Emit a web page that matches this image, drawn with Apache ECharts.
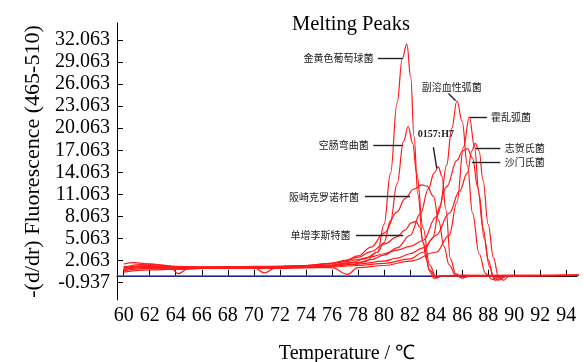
<!DOCTYPE html>
<html><head><meta charset="utf-8">
<script src="https://cdn.jsdelivr.net/npm/echarts@6/dist/echarts.min.js"></script>
<style>html,body{margin:0;padding:0;background:#fff}#c{width:584px;height:362px}</style>
</head><body><div id="c"></div>
<script>
// Tick labels
const yTicks = [-0.937, 2.063, 5.063, 8.063, 11.063, 14.063, 17.063, 20.063, 23.063, 26.063, 29.063, 32.063];
const xTicks = [60, 62, 64, 66, 68, 70, 72, 74, 76, 78, 80, 82, 84, 86, 88, 90, 92, 94];

// Melting curves: [temperature, -(d/dT) fluorescence]
const staph = [[60,0.8],[61,1.2],[62,1.3],[64,1.1],[66,1.0],[68,1.0],[70,1.1],[72,1.1],[74,1.2],[76,1.3],[77.5,1.5],[78.5,1.9],[79.5,3.2],[80,7],[80.5,14],[81,23.5],[81.4,29.5],[81.75,31.5],[82.05,27],[82.3,19],[82.6,11],[83,4.5],[83.5,0.8],[84,-0.3],[84.5,0],[86,0.1],[90,0.05],[95,0.05]];
const campy = [[60,1.0],[61,1.5],[62,1.6],[63.5,1.3],[64.2,0.3],[65,1.0],[66,1.1],[68,1.2],[70,1.2],[72,1.2],[74,1.3],[76,1.5],[77.5,1.8],[78.5,2.3],[79.5,3.2],[80,4.5],[80.5,7.5],[81,12.5],[81.5,18.3],[81.85,20.3],[82.2,18],[82.5,14],[83,6.5],[83.5,1.5],[84,-0.2],[84.5,0],[90,0.05],[95,0.05]];
const vpara = [[60,1.3],[62,1.2],[64,1.0],[66,1.0],[68,1.1],[70,1.1],[70.8,0.4],[71.6,1.0],[72,1.1],[74,1.1],[76,1.2],[78,1.4],[80,1.7],[82,2.3],[83,3.2],[83.7,5],[84.3,9.5],[84.8,15],[85.2,20],[85.6,23.8],[86,21],[86.4,15],[86.8,8.5],[87.3,3],[87.8,0.3],[88.3,-0.5],[88.8,-0.2],[89.5,0],[95,0.05]];
const vchol = [[60,0.5],[62,0.8],[64,0.9],[66,1.0],[68,1.0],[70,1.0],[72,1.0],[74,1.1],[76,1.1],[77.2,0.2],[78,1.1],[80,1.4],[82,2],[84,3.2],[85,5.5],[85.6,10],[86.1,17.5],[86.55,21.6],[86.95,17.5],[87.3,11],[87.7,5],[88.1,1.2],[88.5,-0.6],[89,-0.3],[89.5,0],[95,0.05]];
const shig = [[60,1.6],[60.8,1.8],[62,1.6],[64,1.3],[66,1.2],[68,1.2],[70,1.2],[72,1.2],[74,1.3],[76,1.4],[78,1.6],[80,2.0],[81,2.4],[82,3],[83,3.8],[84,5.5],[85,8.5],[85.8,11.5],[86.4,14],[86.75,17],[87.0,18],[87.3,17],[87.6,13],[88,7],[88.4,2.5],[88.8,-0.2],[89.2,-0.6],[89.6,0],[95,0.05]];
const salm = [[60,1.2],[62,1.4],[64,1.2],[66,1.2],[68,1.2],[70,1.3],[72,1.3],[74,1.4],[76,1.7],[77,1.9],[78,2.2],[79,2.6],[80,3.0],[81,3.5],[82,4.0],[83,4.8],[84,8],[84.8,12.1],[85.6,15.7],[86.05,17],[86.4,17.3],[86.8,16],[87.2,12],[87.6,6.5],[88,2.2],[88.4,-0.2],[88.8,-0.6],[89.3,0],[95,0.05]];
const ecoli = [[60,0.9],[62,1.1],[64,1.0],[66,1.0],[68,1.0],[70,1.1],[72,1.1],[74,1.2],[76,1.4],[78,1.8],[79,2.2],[80,2.8],[81,3.8],[82,5.5],[82.8,8.5],[83.4,11.8],[83.85,14],[84.17,14.8],[84.45,13.5],[84.75,9],[85.1,2.3],[85.5,0.3],[86,-0.3],[86.5,-0.1],[87,0],[95,0.05]];
const crono = [[60,0.7],[62,1.0],[64,0.9],[66,1.0],[68,1.1],[70,1.1],[72,1.2],[74,1.3],[75,1.5],[76,1.7],[77,2.1],[78,2.7],[79,3.9],[80,5.8],[81,8.7],[81.6,10.5],[82.3,11.8],[82.9,12.35],[83.3,12.2],[83.8,10.8],[84.2,7.5],[84.6,4],[85,1.5],[85.5,0.1],[86,-0.3],[86.5,0],[95,0.05]];
const listeria = [[60,1.1],[62,1.3],[64,1.2],[66,1.1],[68,1.2],[70,1.2],[72,1.3],[74,1.4],[76,1.7],[77,2.0],[78,2.5],[79,3.3],[80,4.3],[81,5.3],[81.6,6.2],[82.1,7.2],[82.45,7.4],[82.75,6.6],[83,4.5],[83.25,2.2],[83.5,0.6],[83.85,-0.35],[84.3,0],[95,0.05]];
const blank = [[59.5,0],[90.5,0]];

const curveNames = ['金黄色葡萄球菌','空肠弯曲菌','副溶血性弧菌','霍乱弧菌','志贺氏菌','沙门氏菌','0157:H7','阪崎克罗诺杆菌','单增李斯特菌'];
const curves = [staph, campy, vpara, vchol, shig, salm, ecoli, crono, listeria];

// Annotation labels (data coordinates)
const annNames = ['金黄色葡萄球菌','空肠弯曲菌','阪崎克罗诺杆菌','单增李斯特菌','霍乱弧菌','志贺氏菌','沙门氏菌','副溶血性弧菌','0157:H7'];
const annText = [[79.45,29.57],[79.1,17.78],[78.35,10.75],[77.7,5.55],[87.95,21.55],[89.0,17.33],[89.0,15.5],[85.2,25.6],[83.98,19.2]];
const annSide = ['left','left','left','left','right','right','right','inside','inside'];
const annFrom = [[79.53,29.57],[79.17,17.78],[78.53,10.75],[77.84,5.55],[86.6,21.55],[87.0,17.33],[86.75,15.5],[84.95,24.8],[83.79,17.5]];
const annTo = [[81.45,29.57],[81.43,17.78],[82.0,10.75],[81.48,5.55],[87.9,21.55],[88.93,17.33],[88.93,15.5],[85.5,23.8],[84.05,14.6]];

const serif = '"Liberation Serif","Times New Roman",serif';
const cjk = '"Noto Sans CJK SC",sans-serif';

const series = curves.map((d, i) => ({
  name: curveNames[i], type: 'line', data: d, showSymbol: false, symbol: 'none',
  smooth: 0.4, smoothMonotone: 'x',
  lineStyle: {color: '#ff1a1a', width: 1.2}, z: 3
}));
series.push({
  name: 'blank', type: 'line', data: blank, showSymbol: false, symbol: 'none',
  lineStyle: {color: '#3b4dff', width: 1.2}, z: 2,
  markLine: {
    silent: true, symbol: ['none','none'], animation: false,
    lineStyle: {color: '#222', width: 1.4, type: 'solid'},
    label: {show: false},
    data: annFrom.map((f, i) => [{coord: f}, {coord: annTo[i]}])
  },
  markPoint: {
    silent: true, symbol: 'circle', symbolSize: 1, animation: false,
    itemStyle: {color: 'rgba(0,0,0,0)'},
    label: {show: true, formatter: '{b}', fontSize: 10, color: '#222', fontFamily: cjk, distance: 3},
    data: annNames.map((n, i) => ({
      name: n, coord: annText[i],
      label: {position: annSide[i], fontFamily: n === '0157:H7' ? serif : cjk, fontWeight: n === '0157:H7' ? 'bold' : 'normal'}
    }))
  }
});

const chart = echarts.init(document.getElementById('c'));
chart.setOption({
  animation: false,
  backgroundColor: '#fff',
  title: {text: 'Melting Peaks', left: 287, top: 9,
    textStyle: {fontSize: 20.5, fontWeight: 'normal', fontFamily: serif, color: '#000'}},
  grid: {left: 117, right: 7, top: 23, bottom: 62, outerBoundsMode: 'none', containLabel: false},
  xAxis: {
    type: 'value', min: 59.49, max: 94.82,
    name: 'Temperature / ℃', nameLocation: 'middle', nameGap: 44,
    nameTextStyle: {fontSize: 20, fontFamily: serif, color: '#000'},
    axisLine: {lineStyle: {color: '#000', width: 1}},
    axisTick: {inside: true, length: 6, customValues: xTicks, lineStyle: {color: '#000'}},
    axisLabel: {customValues: xTicks, fontSize: 20, fontFamily: serif, color: '#000', margin: 6},
    splitLine: {show: false}
  },
  yAxis: {
    type: 'value', min: -3.29, max: 34.37,
    name: '-(d/dr) Fluorescence (465-510)', nameLocation: 'middle', nameGap: 73,
    nameTextStyle: {fontSize: 22, fontFamily: serif, color: '#000'},
    axisLine: {show: true, lineStyle: {color: '#000', width: 1}},
    axisTick: {show: true, inside: true, length: 6, customValues: yTicks, lineStyle: {color: '#000'}},
    axisLabel: {customValues: yTicks, fontSize: 20, fontFamily: serif, color: '#000', margin: 7,
      formatter: v => v.toFixed(3)},
    splitLine: {show: false}
  },
  series: series
});
</script></body></html>
